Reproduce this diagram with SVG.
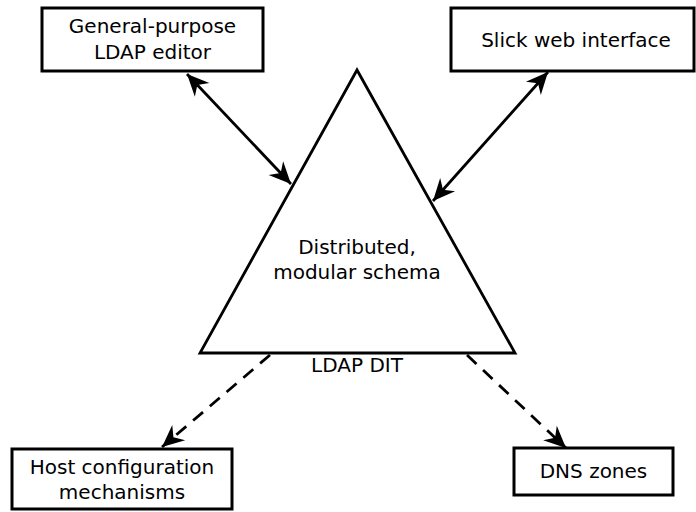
<svg xmlns="http://www.w3.org/2000/svg" width="696" height="512" viewBox="0 0 696 512">
<style>
.box{fill:#fff;stroke:#000;stroke-width:3}
.t{font-family:"DejaVu Sans",sans-serif;font-size:20px;fill:#000;text-anchor:middle}
.c{fill:none;stroke:#000;stroke-width:2.8}
.d{stroke-dasharray:13,9}
</style>
<defs>
<marker id="ah" markerUnits="userSpaceOnUse" viewBox="-24 -12 26 24" refX="0" refY="0" markerWidth="26" markerHeight="24" orient="auto-start-reverse">
<path d="M0,0 L-22,-10 L-15,0 L-22,10 Z" fill="#000"/>
</marker>
</defs>
<g id="dit">
<polygon points="357,70 200,353 515,353" fill="#fff" stroke="#000" stroke-width="2.8" stroke-linejoin="miter"/>
<text class="t" x="357" y="254">Distributed,</text>
<text class="t" x="357" y="279">modular schema</text>
<text class="t" x="357" y="372">LDAP DIT</text>
</g>
<g id="editor">
<rect class="box" x="42" y="8" width="221" height="63"/>
<text class="t" x="152.5" y="33">General-purpose</text>
<text class="t" x="152.5" y="59">LDAP editor</text>
</g>
<g id="web">
<rect class="box" x="451" y="8" width="243" height="63"/>
<text class="t" x="576" y="47">Slick web interface</text>
</g>
<g id="host">
<rect class="box" x="12" y="449" width="220" height="60"/>
<text class="t" x="122" y="474">Host configuration</text>
<text class="t" x="122" y="499">mechanisms</text>
</g>
<g id="dns">
<rect class="box" x="514" y="448" width="159" height="47"/>
<text class="t" x="593.5" y="478">DNS zones</text>
</g>
<g id="connectors">
<line class="c" x1="187" y1="74" x2="291" y2="184" marker-start="url(#ah)" marker-end="url(#ah)"/>
<line class="c" x1="548" y1="72" x2="433" y2="201" marker-start="url(#ah)" marker-end="url(#ah)"/>
<line class="c d" x1="270" y1="355" x2="162" y2="447" marker-end="url(#ah)"/>
<line class="c d" x1="467" y1="355" x2="566" y2="448" marker-end="url(#ah)"/>
</g>
</svg>
